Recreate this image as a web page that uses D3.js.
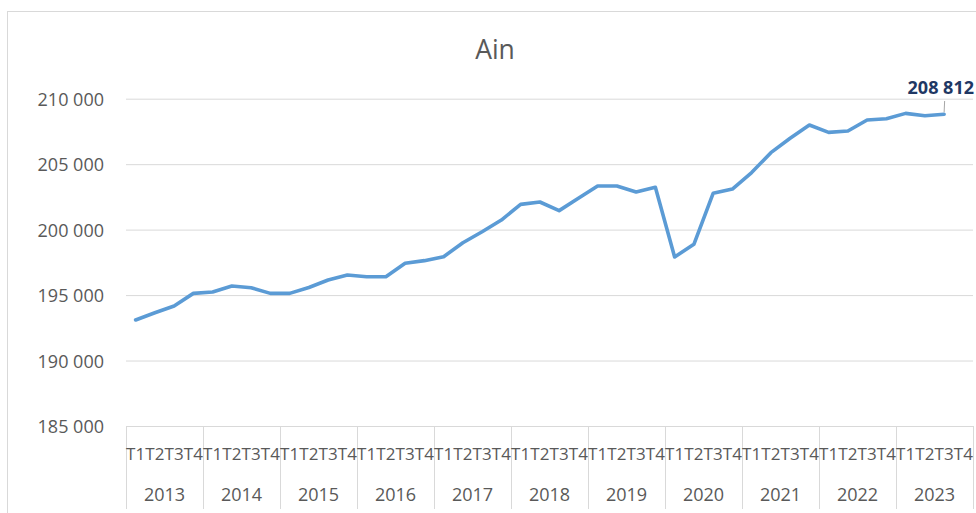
<!DOCTYPE html>
<html>
<head>
<meta charset="utf-8">
<script src="https://cdn.jsdelivr.net/npm/d3@7"></script>
<style>
  html, body { margin: 0; padding: 0; background: #fff; }
  svg { display: block; }
  text { font-family: "Open Sans", "Liberation Sans", sans-serif; }
</style>
</head>
<body>
<svg id="chart" width="976" height="513"></svg>
<script>
// Quarterly population series for the Ain department
const years = ["2013", "2014", "2015", "2016", "2017", "2018", "2019", "2020", "2021", "2022", "2023"];
const quarters = ["T1", "T2", "T3", "T4"];
const population = [
  193100, 193650, 194170, 195130,
  195230, 195690, 195560, 195130,
  195130, 195580, 196150, 196530,
  196400, 196400, 197430, 197630,
  197930, 199000, 199840, 200730,
  201930, 202110, 201450, 202390,
  203330, 203330, 202870, 203230,
  197910, 198880, 202770, 203100,
  204360, 205880, 206980, 207990,
  207430, 207530, 208370, 208470,
  208880, 208700, 208812
];
const yTicks = [185000, 190000, 195000, 200000, 205000, 210000];
const title = "Ain";

const svg = d3.select("#chart");
const plot = { left: 126, right: 973, top: 98.7, bottom: 426 };

const fmt = v => d3.format(",")(v).replace(/,/g, " ");

// Outer chart frame
svg.append("rect")
  .attr("x", 7.5).attr("y", 11.5)
  .attr("width", 1000).attr("height", 1000)
  .attr("fill", "none").attr("stroke", "#d9d9d9").attr("stroke-width", 1);

// Scales
const keys = [];
years.forEach(y => quarters.forEach(q => keys.push(y + "-" + q)));
const x = d3.scaleBand().domain(keys).range([plot.left, plot.right]).padding(0);
const xYear = d3.scaleBand().domain(years).range([plot.left, plot.right]).padding(0);
const y = d3.scaleLinear().domain([185000, 210000]).range([plot.bottom, plot.top]);
const cx = i => x(keys[i]) + x.bandwidth() / 2;

// Title
svg.append("text")
  .attr("x", 495).attr("y", 58.5)
  .attr("text-anchor", "middle")
  .attr("font-size", 26.5).attr("fill", "#595959")
  .text(title);

// Horizontal gridlines and value axis
const yAxis = d3.axisLeft(y).tickValues(yTicks).tickSize(-(plot.right - plot.left)).tickPadding(22).tickFormat(fmt);
const gy = svg.append("g").attr("transform", `translate(${plot.left},0)`).call(yAxis);
gy.select(".domain").remove();
gy.selectAll(".tick line").attr("stroke", "#d9d9d9").attr("stroke-width", 1);
gy.selectAll(".tick text")
  .attr("font-size", 18).attr("fill", "#595959")
  .attr("font-family", "\"Open Sans\", sans-serif")
  .attr("dy", "0.36em");

// Category axis: baseline, year dividers, quarter and year labels
svg.append("line")
  .attr("x1", plot.left).attr("x2", plot.right)
  .attr("y1", plot.bottom + 0.5).attr("y2", plot.bottom + 0.5)
  .attr("stroke", "#d9d9d9");

const dividers = years.map(yr => xYear(yr)).concat([plot.right]);
svg.append("g").selectAll("line").data(dividers).join("line")
  .attr("x1", d => Math.round(d) + 0.5).attr("x2", d => Math.round(d) + 0.5)
  .attr("y1", plot.bottom).attr("y2", 509)
  .attr("stroke", "#d9d9d9");

svg.append("g").selectAll("text").data(keys).join("text")
  .attr("x", d => x(d) + x.bandwidth() / 2)
  .attr("y", 460)
  .attr("text-anchor", "middle")
  .attr("font-size", 17).attr("fill", "#595959")
  .text(d => d.split("-")[1]);

svg.append("g").selectAll("text").data(years).join("text")
  .attr("x", d => xYear(d) + xYear.bandwidth() / 2)
  .attr("y", 500.5)
  .attr("text-anchor", "middle")
  .attr("font-size", 18).attr("fill", "#595959")
  .text(d => d);

// Series line
const line = d3.line().x((d, i) => cx(i)).y(d => y(d));
svg.append("path")
  .datum(population)
  .attr("d", line)
  .attr("fill", "none")
  .attr("stroke", "#5b9bd5")
  .attr("stroke-width", 3.6)
  .attr("stroke-linejoin", "round")
  .attr("stroke-linecap", "round");

// Label on the latest value with its leader line
const last = population.length - 1;
const lx = cx(last), ly = y(population[last]);
svg.append("line")
  .attr("x1", lx).attr("y1", ly - 2)
  .attr("x2", lx + 0.5).attr("y2", 101)
  .attr("stroke", "#a6a6a6").attr("stroke-width", 1);
svg.append("text")
  .attr("x", 974).attr("y", 94)
  .attr("text-anchor", "end")
  .attr("font-size", 18).attr("font-weight", "bold")
  .attr("fill", "#1f3864")
  .text(fmt(population[last]));
</script>
</body>
</html>
